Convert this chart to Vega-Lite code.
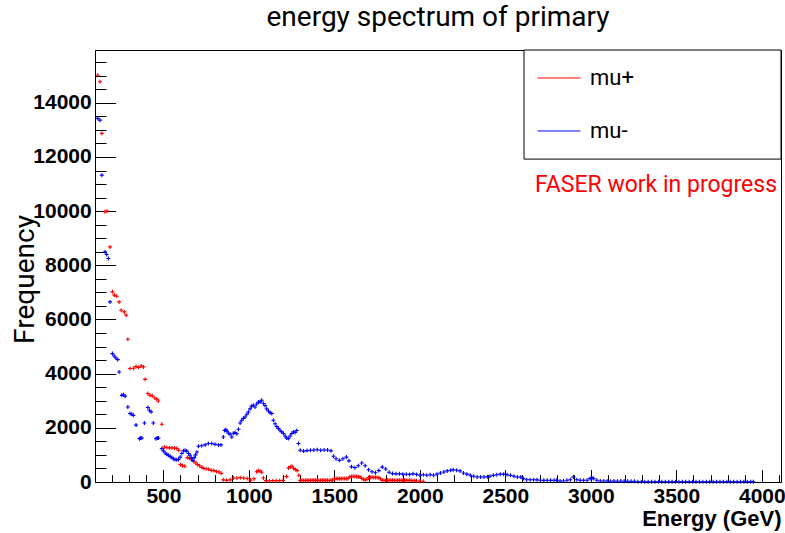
{
  "$schema": "https://vega.github.io/schema/vega-lite/v6.json",
  "width": 686,
  "height": 432,
  "autosize": {"type": "none"},
  "padding": {"left": 95, "top": 50, "right": 4, "bottom": 51},
  "background": "white",
  "title": {
    "text": "energy spectrum of primary",
    "anchor": "middle",
    "font": "Roboto",
    "fontSize": 28,
    "fontWeight": "normal",
    "color": "black",
    "offset": 18
  },
  "config": {
    "view": {"stroke": "black", "strokeWidth": 1},
    "axis": {"grid": false, "tickColor": "black", "domainColor": "black", "tickWidth": 1, "domainWidth": 1, "labelColor": "black", "titleColor": "black", "format": "d"}
  },
  "datasets": {
    "mu_plus": [
      {"E":116,"n":15020},{"E":129,"n":14780},{"E":140,"n":12870},{"E":158,"n":9980},{"E":170,"n":10000},
      {"E":188,"n":8680},{"E":202,"n":7020},{"E":213,"n":6900},{"E":227,"n":6860},{"E":241,"n":6650},
      {"E":253,"n":6340},{"E":272,"n":6280},{"E":282,"n":6160},{"E":292,"n":5270},{"E":305,"n":4190},
      {"E":325,"n":4200},{"E":340,"n":4260},{"E":355,"n":4230},{"E":370,"n":4280},{"E":383,"n":4250},
      {"E":393,"n":3790},{"E":409,"n":3270},{"E":422,"n":3200},{"E":435,"n":3180},{"E":450,"n":3100},
      {"E":462,"n":3060},{"E":470,"n":2990},{"E":491,"n":2130},{"E":505,"n":1290},{"E":520,"n":1270},
      {"E":535,"n":1260},{"E":550,"n":1260},{"E":565,"n":1250},{"E":578,"n":1240},{"E":590,"n":1170},
      {"E":600,"n":640},{"E":612,"n":600},{"E":625,"n":580},{"E":640,"n":900},{"E":652,"n":880},
      {"E":665,"n":820},{"E":678,"n":760},{"E":690,"n":700},{"E":700,"n":640},{"E":712,"n":600},
      {"E":725,"n":540},{"E":737,"n":500},{"E":750,"n":490},{"E":765,"n":470},{"E":780,"n":430},
      {"E":795,"n":420},{"E":810,"n":390},{"E":825,"n":370},{"E":838,"n":320},{"E":850,"n":80},
      {"E":870,"n":60},{"E":890,"n":80},{"E":910,"n":150},{"E":930,"n":150},{"E":950,"n":160},
      {"E":970,"n":150},{"E":990,"n":130},{"E":1010,"n":70},{"E":1030,"n":120},{"E":1045,"n":380},
      {"E":1055,"n":420},{"E":1065,"n":400},{"E":1075,"n":360},{"E":1085,"n":150},{"E":1100,"n":50},
      {"E":1120,"n":40},{"E":1140,"n":50},{"E":1160,"n":50},{"E":1180,"n":50},{"E":1200,"n":60},
      {"E":1220,"n":200},{"E":1232,"n":520},{"E":1242,"n":560},{"E":1252,"n":580},{"E":1262,"n":500},
      {"E":1272,"n":460},{"E":1282,"n":420},{"E":1292,"n":250},{"E":1300,"n":60},{"E":1310,"n":60},
      {"E":1320,"n":55},{"E":1330,"n":60},{"E":1340,"n":65},{"E":1350,"n":60},{"E":1360,"n":55},
      {"E":1370,"n":60},{"E":1380,"n":60},{"E":1390,"n":65},{"E":1400,"n":60},{"E":1410,"n":55},
      {"E":1420,"n":60},{"E":1430,"n":60},{"E":1440,"n":65},{"E":1450,"n":60},{"E":1460,"n":60},
      {"E":1470,"n":55},{"E":1480,"n":60},{"E":1490,"n":70},{"E":1500,"n":120},{"E":1510,"n":125},
      {"E":1520,"n":125},{"E":1530,"n":120},{"E":1540,"n":125},{"E":1550,"n":130},{"E":1560,"n":125},
      {"E":1570,"n":120},{"E":1580,"n":130},{"E":1590,"n":190},{"E":1600,"n":200},{"E":1610,"n":210},
      {"E":1620,"n":200},{"E":1630,"n":200},{"E":1640,"n":190},{"E":1650,"n":180},{"E":1660,"n":130},
      {"E":1670,"n":100},{"E":1680,"n":80},{"E":1690,"n":100},{"E":1700,"n":160},{"E":1710,"n":170},
      {"E":1720,"n":175},{"E":1730,"n":170},{"E":1740,"n":170},{"E":1750,"n":165},{"E":1760,"n":160},
      {"E":1770,"n":120},{"E":1780,"n":60},{"E":1790,"n":60},{"E":1800,"n":55},{"E":1810,"n":60},
      {"E":1820,"n":60},{"E":1830,"n":65},{"E":1840,"n":60},{"E":1850,"n":60},{"E":1860,"n":55},
      {"E":1870,"n":60},{"E":1880,"n":60},{"E":1890,"n":60},{"E":1900,"n":55},{"E":1910,"n":60},
      {"E":1920,"n":60},{"E":1930,"n":55},{"E":1940,"n":60},{"E":1950,"n":55},{"E":1960,"n":50},
      {"E":1970,"n":50},{"E":1980,"n":45},{"E":2000,"n":30},{"E":2020,"n":30}
    ],
    "mu_minus": [
      {"E":116,"n":13425},{"E":129,"n":13360},{"E":140,"n":11330},{"E":159,"n":8500},{"E":168,"n":8400},
      {"E":178,"n":8250},{"E":188,"n":6650},{"E":202,"n":4740},{"E":212,"n":4650},{"E":222,"n":4580},
      {"E":233,"n":4520},{"E":241,"n":4060},{"E":257,"n":3200},{"E":266,"n":3220},{"E":276,"n":3170},
      {"E":292,"n":2770},{"E":305,"n":2530},{"E":315,"n":2500},{"E":324,"n":2460},{"E":340,"n":2100},
      {"E":360,"n":1600},{"E":367,"n":1620},{"E":374,"n":1625},{"E":389,"n":2180},{"E":409,"n":2750},
      {"E":418,"n":2650},{"E":428,"n":2590},{"E":441,"n":2180},{"E":457,"n":1600},{"E":464,"n":1620},
      {"E":471,"n":1625},{"E":491,"n":1234},{"E":500,"n":1150},{"E":510,"n":1070},{"E":520,"n":1020},
      {"E":529,"n":986},{"E":540,"n":940},{"E":549,"n":900},{"E":558,"n":860},{"E":568,"n":827},
      {"E":578,"n":820},{"E":588,"n":830},{"E":598,"n":920},{"E":608,"n":1050},{"E":617,"n":1150},
      {"E":627,"n":1170},{"E":637,"n":1140},{"E":647,"n":1050},{"E":656,"n":985},{"E":664,"n":880},
      {"E":672,"n":800},{"E":680,"n":900},{"E":688,"n":1000},{"E":696,"n":1108},{"E":705,"n":1320},
      {"E":724,"n":1340},{"E":744,"n":1370},{"E":763,"n":1420},{"E":783,"n":1420},{"E":802,"n":1390},
      {"E":822,"n":1370},{"E":837,"n":1370},{"E":851,"n":1660},{"E":858,"n":1900},{"E":865,"n":1936},
      {"E":872,"n":1880},{"E":880,"n":1800},{"E":890,"n":1762},{"E":900,"n":1662},{"E":909,"n":1800},
      {"E":919,"n":1830},{"E":929,"n":1780},{"E":939,"n":1950},{"E":949,"n":2180},{"E":958,"n":2280},
      {"E":968,"n":2350},{"E":978,"n":2400},{"E":988,"n":2500},{"E":997,"n":2586},{"E":1007,"n":2700},
      {"E":1016,"n":2800},{"E":1026,"n":2833},{"E":1036,"n":2770},{"E":1046,"n":2880},{"E":1056,"n":2950},
      {"E":1066,"n":2960},{"E":1075,"n":3018},{"E":1085,"n":2896},{"E":1095,"n":2820},{"E":1104,"n":2700},
      {"E":1114,"n":2620},{"E":1124,"n":2560},{"E":1134,"n":2527},{"E":1143,"n":2280},{"E":1153,"n":2150},
      {"E":1163,"n":2050},{"E":1172,"n":1980},{"E":1182,"n":1910},{"E":1192,"n":1850},{"E":1202,"n":1790},
      {"E":1212,"n":1700},{"E":1221,"n":1620},{"E":1231,"n":1603},{"E":1241,"n":1700},{"E":1251,"n":1790},
      {"E":1261,"n":1850},{"E":1270,"n":1830},{"E":1280,"n":1900},{"E":1290,"n":1420},{"E":1300,"n":1170},
      {"E":1320,"n":1140},{"E":1340,"n":1160},{"E":1360,"n":1170},{"E":1380,"n":1180},{"E":1400,"n":1190},
      {"E":1420,"n":1170},{"E":1440,"n":1180},{"E":1460,"n":1180},{"E":1480,"n":1150},{"E":1495,"n":950},
      {"E":1510,"n":860},{"E":1530,"n":800},{"E":1550,"n":860},{"E":1570,"n":920},{"E":1585,"n":780},
      {"E":1600,"n":560},{"E":1620,"n":530},{"E":1640,"n":600},{"E":1660,"n":700},{"E":1680,"n":600},
      {"E":1700,"n":450},{"E":1720,"n":380},{"E":1740,"n":340},{"E":1760,"n":420},{"E":1780,"n":550},
      {"E":1800,"n":480},{"E":1820,"n":360},{"E":1840,"n":310},{"E":1860,"n":300},{"E":1880,"n":300},
      {"E":1900,"n":290},{"E":1920,"n":285},{"E":1940,"n":280},{"E":1960,"n":300},{"E":1980,"n":280},
      {"E":2000,"n":250},{"E":2020,"n":270},{"E":2040,"n":250},{"E":2060,"n":270},{"E":2080,"n":250},
      {"E":2100,"n":290},{"E":2120,"n":335},{"E":2140,"n":370},{"E":2160,"n":410},{"E":2180,"n":435},
      {"E":2195,"n":455},{"E":2215,"n":435},{"E":2235,"n":410},{"E":2255,"n":335},{"E":2275,"n":290},
      {"E":2295,"n":250},{"E":2315,"n":210},{"E":2335,"n":185},{"E":2355,"n":185},{"E":2375,"n":185},
      {"E":2395,"n":190},{"E":2410,"n":210},{"E":2430,"n":245},{"E":2450,"n":270},{"E":2470,"n":290},
      {"E":2490,"n":290},{"E":2510,"n":270},{"E":2530,"n":245},{"E":2550,"n":210},{"E":2570,"n":185},
      {"E":2590,"n":180},{"E":2605,"n":125},{"E":2625,"n":85},{"E":2645,"n":85},{"E":2665,"n":85},
      {"E":2685,"n":80},{"E":2705,"n":63},{"E":2725,"n":60},{"E":2745,"n":63},{"E":2765,"n":60},
      {"E":2785,"n":63},{"E":2800,"n":60},{"E":2820,"n":37},{"E":2840,"n":37},{"E":2860,"n":63},
      {"E":2880,"n":85},{"E":2898,"n":180},{"E":2918,"n":85},{"E":2938,"n":63},{"E":2958,"n":63},
      {"E":2978,"n":63},{"E":2995,"n":125},{"E":3006,"n":160},{"E":3016,"n":125},{"E":3035,"n":63},
      {"E":3055,"n":37},{"E":3075,"n":35},{"E":3095,"n":35},{"E":3115,"n":30},{"E":3135,"n":35},
      {"E":3155,"n":30},{"E":3175,"n":35},{"E":3195,"n":30},{"E":3215,"n":30},{"E":3235,"n":30},
      {"E":3255,"n":25},{"E":3275,"n":8},{"E":3295,"n":8},{"E":3315,"n":8},{"E":3335,"n":8},
      {"E":3355,"n":8},{"E":3375,"n":8},{"E":3395,"n":8},{"E":3415,"n":8},{"E":3435,"n":8},
      {"E":3455,"n":8},{"E":3475,"n":8},{"E":3495,"n":8},{"E":3515,"n":8},{"E":3535,"n":8},
      {"E":3555,"n":8},{"E":3575,"n":8},{"E":3595,"n":8},{"E":3615,"n":8},{"E":3635,"n":8},
      {"E":3655,"n":8},{"E":3675,"n":8},{"E":3695,"n":8},{"E":3715,"n":8},{"E":3735,"n":8},
      {"E":3755,"n":8},{"E":3775,"n":8},{"E":3795,"n":8},{"E":3815,"n":8},{"E":3835,"n":8},
      {"E":3855,"n":8},{"E":3875,"n":8},{"E":3895,"n":8},{"E":3915,"n":8},{"E":3935,"n":8},
      {"E":3950,"n":8}
    ],
    "anchor": [{}]
  },
  "resolve": {"axis": {"x": "independent", "y": "independent"}},
  "layer": [
    {
      "data": {"name": "anchor"},
      "mark": {"type": "rect", "fill": "white", "stroke": "black", "strokeWidth": 1},
      "encoding": {
        "x": {
          "datum": 2609, "type": "quantitative",
          "scale": {"domain": [100, 4112], "nice": false, "zero": false},
          "axis": {
            "orient": "bottom", "title": null, "labels": false, "domain": false,
            "values": [100,200,300,400,500,600,700,800,900,1000,1100,1200,1300,1400,1500,1600,1700,1800,1900,2000,2100,2200,2300,2400,2500,2600,2700,2800,2900,3000,3100,3200,3300,3400,3500,3600,3700,3800,3900,4000,4100],
            "tickSize": -7.4
          }
        },
        "x2": {"datum": 4112},
        "y": {
          "datum": 11922, "type": "quantitative",
          "scale": {"domain": [0, 15950], "nice": false, "zero": true},
          "axis": {
            "orient": "left", "title": null, "labels": false, "domain": false,
            "values": [0,500,1000,1500,2000,2500,3000,3500,4000,4500,5000,5500,6000,6500,7000,7500,8000,8500,9000,9500,10000,10500,11000,11500,12000,12500,13000,13500,14000,14500,15000,15500],
            "tickSize": -11
          }
        },
        "y2": {"datum": 15950}
      }
    },
    {
      "data": {"name": "mu_plus"},
      "mark": {"type": "point", "shape": "M-1,0H1M0,-1V1", "filled": false, "size": 16, "strokeWidth": 1.1, "opacity": 1},
      "encoding": {
        "x": {
          "field": "E", "type": "quantitative",
          "axis": {
            "orient": "bottom",
            "title": "Energy (GeV)",
            "values": [500,1000,1500,2000,2500,3000,3500,4000],
            "tickSize": -12.4,
            "labelPadding": 16,
            "labelFont": "Liberation Sans", "labelFontWeight": "bold", "labelFontSize": 21,
            "titleFont": "Liberation Sans", "titleFontWeight": "bold", "titleFontSize": 22,
            "titleAnchor": "end", "titleAlign": "right", "titleBaseline": "middle",
            "titleX": 686, "titleY": 36
          }
        },
        "y": {
          "field": "n", "type": "quantitative",
          "axis": {
            "orient": "left",
            "title": "Frequency",
            "values": [0,2000,4000,6000,8000,10000,12000,14000],
            "tickSize": -20.7,
            "labelPadding": 24.5,
            "labelFont": "Liberation Sans", "labelFontWeight": "bold", "labelFontSize": 21,
            "titleFont": "Roboto", "titleFontWeight": "normal", "titleFontSize": 28,
            "titleAngle": -90, "titleAlign": "center", "titleBaseline": "middle",
            "titleX": -70, "titleY": 229
          }
        },
        "color": {
          "datum": "mu+",
          "scale": {"domain": ["mu+", "mu-"], "range": ["#ff0000", "#0000ff"]},
          "legend": {
            "orient": "none", "legendX": 442, "legendY": 6,
            "title": null, "symbolType": "stroke", "symbolSize": 1849, "symbolStrokeWidth": 1,
            "labelFont": "Roboto", "labelFontSize": 22, "labelColor": "black", "labelOffset": 9,
            "rowPadding": 20
          }
        }
      }
    },
    {
      "data": {"name": "mu_minus"},
      "mark": {"type": "point", "shape": "M-1,0H1M0,-1V1", "filled": false, "size": 16, "strokeWidth": 1.1, "opacity": 1},
      "encoding": {
        "x": {"field": "E", "type": "quantitative", "axis": null},
        "y": {"field": "n", "type": "quantitative", "axis": null},
        "color": {"datum": "mu-"}
      }
    },
    {
      "data": {"name": "anchor"},
      "mark": {"type": "text", "text": "FASER work in progress", "color": "#ff0000", "font": "Roboto", "fontSize": 23, "align": "center", "baseline": "middle"},
      "encoding": {
        "x": {"datum": 3381, "type": "quantitative", "axis": null},
        "y": {"datum": 10962, "type": "quantitative", "axis": null}
      }
    }
  ]
}
